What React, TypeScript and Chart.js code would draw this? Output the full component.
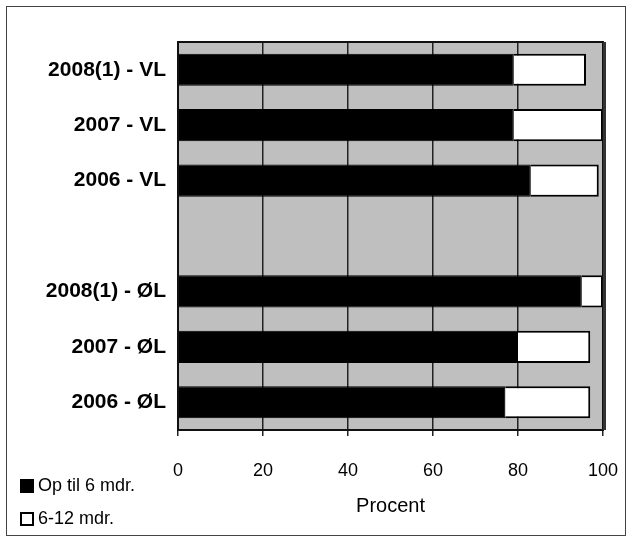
import React, { useEffect, useRef } from "react";
import { Chart, registerables } from "chart.js";

Chart.register(...registerables);

const categories = ["2008(1) - VL", "2007 - VL", "2006 - VL", "", "2008(1) - ØL", "2007 - ØL", "2006 - ØL"];
const upTo6 = [79, 79, 83, null, 95, 80, 77];
const from6to12 = [17, 21, 16, null, 5, 17, 20];
const xTicks = [0, 20, 40, 60, 80, 100];
const seriesNames = ["Op til 6 mdr.", "6-12 mdr."];

const plotFrame = {
  id: "plotFrame",
  beforeDraw(chart: any) {
    const { ctx, chartArea: a } = chart;
    ctx.save();
    ctx.fillStyle = "#bfbfbf";
    ctx.fillRect(a.left, a.top, a.right - a.left, a.bottom - a.top);
    ctx.restore();
  },
  afterDraw(chart: any) {
    const { ctx, chartArea: a } = chart;
    ctx.save();
    ctx.strokeStyle = "#111";
    ctx.lineWidth = 2;
    ctx.strokeRect(a.left, a.top, a.right - a.left, a.bottom - a.top);
    ctx.fillStyle = "#333";
    ctx.fillRect(a.right, a.top, 3, a.bottom - a.top);
    ctx.restore();
  },
};

export default function App() {
  const ref = useRef<HTMLCanvasElement>(null);
  useEffect(() => {
    if (!ref.current) return;
    const chart = new Chart(ref.current, {
      type: "bar",
      data: {
        labels: categories,
        datasets: [
          {
            label: seriesNames[0],
            data: upTo6,
            backgroundColor: "#000",
            borderColor: "#000",
            borderWidth: 1,
            barPercentage: 0.58,
            categoryPercentage: 1,
          },
          {
            label: seriesNames[1],
            data: from6to12,
            backgroundColor: "#fff",
            borderColor: "#000",
            borderWidth: 2,
            barPercentage: 0.58,
            categoryPercentage: 1,
          },
        ],
      },
      options: {
        indexAxis: "y",
        animation: false,
        responsive: false,
        layout: { padding: { top: 42, right: 30, left: 2, bottom: 22 } },
        plugins: { legend: { display: false }, tooltip: { enabled: false } },
        scales: {
          x: {
            stacked: true,
            min: 0,
            max: 100,
            afterBuildTicks: (s: any) => {
              s.ticks = xTicks.map((v) => ({ value: v }));
            },
            afterFit: (s: any) => {
              s.height = 92;
              s.paddingLeft = 0;
              s.paddingRight = 0;
            },
            grid: { color: "#222", lineWidth: 1.5, tickLength: 6, drawOnChartArea: true },
            border: { display: false },
            ticks: {
              color: "#000",
              padding: 24,
              font: { family: "Liberation Sans", size: 18 },
            },
            title: {
              display: true,
              text: "Procent",
              color: "#000",
              font: { family: "Liberation Sans", size: 20 },
              padding: { top: 4, bottom: 4 },
            },
          },
          y: {
            stacked: true,
            afterFit: (s: any) => {
              s.width = 176;
            },
            grid: { display: false, drawTicks: false },
            border: { display: false },
            ticks: {
              color: "#000",
              padding: 12,
              font: { family: "Liberation Sans", size: 21, weight: "bold" },
            },
          },
        },
      },
      plugins: [plotFrame],
    } as any);
    return () => chart.destroy();
  }, []);

  const legendItem = (fill: string, text: string, top: number) => (
    <div
      style={{
        position: "absolute",
        left: 20,
        top,
        display: "flex",
        alignItems: "center",
        fontFamily: "Liberation Sans",
        fontSize: 18,
        color: "#000",
      }}
    >
      <span
        style={{
          display: "inline-block",
          width: 10,
          height: 10,
          background: fill,
          border: "2px solid #000",
          marginRight: 4,
        }}
      />
      {text}
    </div>
  );

  return (
    <div style={{ position: "fixed", left: 0, top: 0, width: 633, height: 544, background: "#fff" }}>
      <canvas ref={ref} width={633} height={544} style={{ position: "absolute", left: 0, top: 0 }} />
      <div
        style={{
          position: "absolute",
          left: 6,
          top: 6,
          width: 620,
          height: 530,
          border: "1px solid #444",
          boxSizing: "border-box",
          pointerEvents: "none",
        }}
      />
      {legendItem("#000", seriesNames[0], 475)}
      {legendItem("#fff", seriesNames[1], 508)}
    </div>
  );
}
